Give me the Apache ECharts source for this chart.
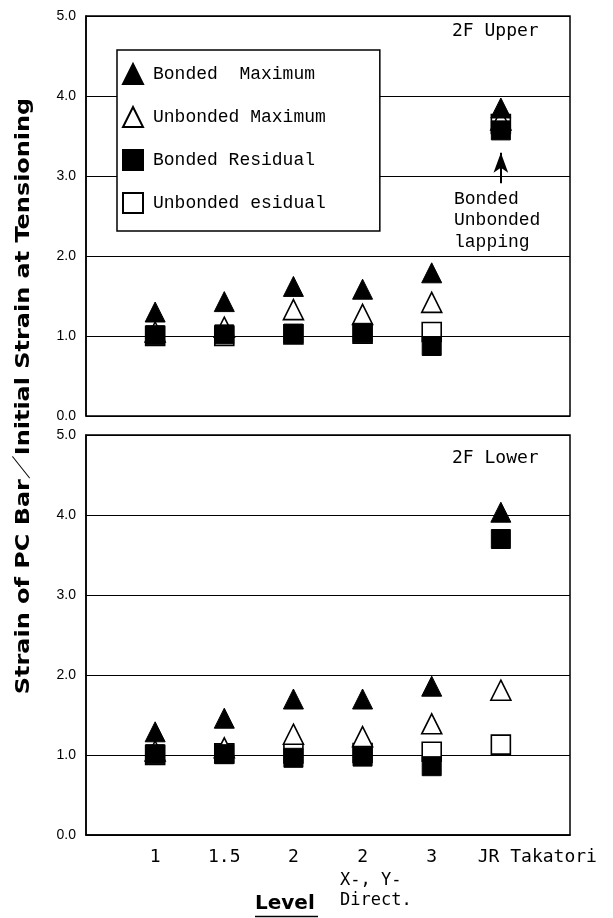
<!DOCTYPE html>
<html>
<head>
<meta charset="utf-8">
<script src="https://cdn.jsdelivr.net/npm/echarts@6/dist/echarts.min.js"></script>
<style>
  html, body { margin: 0; padding: 0; background: #fff; }
  #main { width: 613px; height: 918px; }
</style>
</head>
<body>
<div id="main"></div>
<script>
var chart = echarts.init(document.getElementById('main'));

// x positions, first and last are empty padding slots
var levels = ['', '1', '1.5', '2', '2', '3', 'JR Takatori', ''];
var yTicks = [0, 1, 2, 3, 4, 5];

// 2F Upper
var upperBondedMax = [1.30, 1.43, 1.62, 1.585, 1.79, 3.85];
var upperUnbondedMax = [1.05, 1.11, 1.33, 1.27, 1.42, 3.70];
var upperBondedRes = [1.01, 1.02, 1.03, 1.04, 0.875, 3.57];
var upperUnbondedRes = [1.00, 1.00, 1.02, 1.03, 1.05, 3.65];

// 2F Lower
var lowerBondedMax = [1.29, 1.46, 1.70, 1.70, 1.86, 4.035];
var lowerUnbondedMax = [1.05, 1.09, 1.26, 1.23, 1.39, 1.81];
var lowerBondedRes = [1.01, 1.01, 0.965, 0.98, 0.86, 3.70];
var lowerUnbondedRes = [1.00, 1.02, 1.02, 1.025, 1.04, 1.13];

// arrow under the JR Takatori group (upper panel)
var arrowFrom = 2.91, arrowTo = 3.29;

var names = ['Bonded  Maximum', 'Unbonded Maximum', 'Bonded Residual', 'Unbonded esidual'];

function pts(vals) {
  return vals.map(function (v, i) { return [i + 1, v]; });
}

var filled = { color: '#000', borderColor: '#000', borderWidth: 1, opacity: 1 };
var hollow = { color: '#fff', borderColor: '#000', borderWidth: 1.6, opacity: 1 };

function group(idx, bMax, uMax, bRes, uRes) {
  return [
    { name: names[3], type: 'scatter', xAxisIndex: idx, yAxisIndex: idx, symbol: 'rect', symbolSize: 19, itemStyle: hollow, data: pts(uRes) },
    { name: names[1], type: 'scatter', xAxisIndex: idx, yAxisIndex: idx, symbol: 'triangle', symbolSize: [20, 20], itemStyle: hollow, data: pts(uMax) },
    { name: names[0], type: 'scatter', xAxisIndex: idx, yAxisIndex: idx, symbol: 'triangle', symbolSize: [20, 20], itemStyle: filled, data: pts(bMax) },
    { name: names[2], type: 'scatter', xAxisIndex: idx, yAxisIndex: idx, symbol: 'rect', symbolSize: 19, itemStyle: filled, data: pts(bRes) }
  ];
}

var series = group(0, upperBondedMax, upperUnbondedMax, upperBondedRes, upperUnbondedRes)
  .concat(group(1, lowerBondedMax, lowerUnbondedMax, lowerBondedRes, lowerUnbondedRes));

// arrow
series[2].markLine = {
  silent: true,
  animation: false,
  symbol: ['none', 'arrow'],
  symbolSize: [11, 20],
  label: { show: false },
  lineStyle: { color: '#000', width: 2, type: 'solid', opacity: 1 },
  data: [[{ coord: [6, arrowFrom] }, { coord: [6, arrowTo] }]]
};

function yAxis(idx) {
  return {
    type: 'value', gridIndex: idx, min: yTicks[0], max: yTicks[yTicks.length - 1], interval: 1,
    axisLine: { show: true, lineStyle: { color: '#000', width: 1.5 } },
    axisTick: { show: false },
    axisLabel: {
      margin: 10, color: '#000', fontSize: 14, fontFamily: 'Liberation Sans',
      formatter: function (v) { return v.toFixed(1); }
    },
    splitLine: { show: true, lineStyle: { color: '#000', width: 1 } }
  };
}

var option = {
  animation: false,
  backgroundColor: '#fff',
  grid: [
    { left: 86, top: 16, width: 484, height: 400, show: true, borderColor: '#000', borderWidth: 1.5, backgroundColor: 'transparent' },
    { left: 86, top: 435, width: 484, height: 400, show: true, borderColor: '#000', borderWidth: 1.5, backgroundColor: 'transparent' }
  ],
  xAxis: [
    {
      type: 'category', gridIndex: 0, data: levels, boundaryGap: false,
      axisLine: { show: false }, axisTick: { show: false }, axisLabel: { show: false }, splitLine: { show: false }
    },
    {
      type: 'category', gridIndex: 1, data: levels, boundaryGap: false,
      axisLine: { show: true, lineStyle: { color: '#000', width: 1.5 } },
      axisTick: { show: false }, splitLine: { show: false },
      axisLabel: {
        interval: 0, margin: 13, color: '#000', fontSize: 18, fontFamily: 'DejaVu Sans Mono',
        hideOverlap: false,
        formatter: function (v) { return v === 'JR Takatori' ? '{s|}' + v : v; },
        rich: { s: { width: 73 } }
      }
    }
  ],
  yAxis: [yAxis(0), yAxis(1)],
  legend: {
    data: names,
    orient: 'vertical',
    left: 117, top: 50,
    padding: [13, 54, 17, 5],
    itemGap: 21,
    itemWidth: 20, itemHeight: 20,
    backgroundColor: '#fff',
    borderColor: '#000', borderWidth: 1.5, borderRadius: 0,
    selectedMode: false,
    textStyle: { color: '#000', fontSize: 18, fontFamily: 'Liberation Mono', padding: [0, 0, 0, 5] }
  },
  graphic: [
    {
      type: 'text', x: 24, y: 396, rotation: Math.PI / 2, scaleX: 1.26,
      style: { text: 'Strain of PC Bar／Initial Strain at Tensioning', fill: '#000', font: 'bold 19px "DejaVu Sans", "Noto Sans CJK JP"', align: 'center', verticalAlign: 'middle' }
    },
    { type: 'text', left: 452, top: 22, style: { text: '2F Upper', fill: '#000', font: '18px "DejaVu Sans Mono"' } },
    { type: 'text', left: 452, top: 449, style: { text: '2F Lower', fill: '#000', font: '18px "DejaVu Sans Mono"' } },
    { type: 'text', left: 454, top: 188, style: { text: 'Bonded\nUnbonded\nlapping', fill: '#000', font: '18px "Liberation Mono"', lineHeight: 21.5 } },
    { type: 'text', left: 340, top: 872, style: { text: 'X-, Y-', fill: '#000', font: '17px "DejaVu Sans Mono"' } },
    { type: 'text', left: 340, top: 892, style: { text: 'Direct.', fill: '#000', font: '17px "DejaVu Sans Mono"' } },
    { type: 'text', left: 255, top: 894, style: { text: 'Level', fill: '#000', font: 'bold 20px "DejaVu Sans"' } },
    { type: 'line', shape: { x1: 255, y1: 916.5, x2: 318, y2: 916.5 }, style: { stroke: '#000', lineWidth: 1.5 } }
  ],
  series: series
};

chart.setOption(option);
</script>
</body>
</html>
